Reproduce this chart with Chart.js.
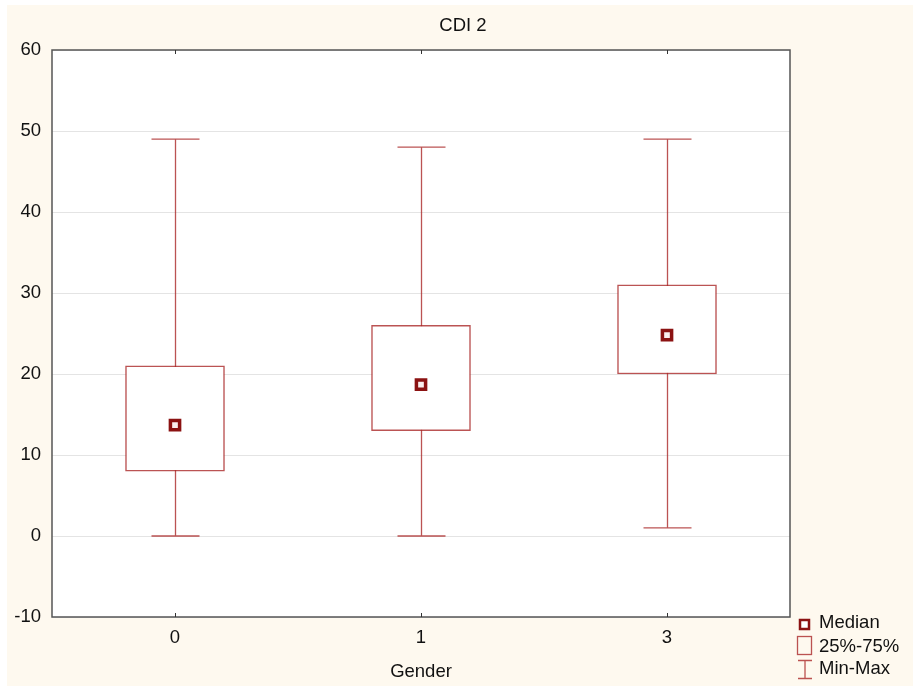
<!DOCTYPE html>
<html>
<head>
<meta charset="utf-8">
<script src="https://cdn.jsdelivr.net/npm/chart.js@4"></script>
<style>
  html, body { margin: 0; padding: 0; background: #fff; }
  #wrap { width: 913px; height: 686px; }
</style>
</head>
<body>
<div id="wrap"><canvas id="boxChart" width="913" height="686"></canvas></div>
<script>
// Gender groups and their CDI 2 box summary
const categories = ['0', '1', '3'];
const minValues = [0, 0, 1];
const q1Values = [8, 13, 20];
const medianValues = [13.7, 18.7, 24.8];
const q3Values = [21, 26, 31];
const maxValues = [49, 48, 49];

const yTicks = [-10, 0, 10, 20, 30, 40, 50, 60];

const chartTitle = 'CDI 2';
const boxColor = 'rgba(170, 40, 40, 0.8)';
const medianColor = '#8b1212';
const fontFamily = '"Liberation Sans", Arial, sans-serif';
const fontSize = 18.5;

// whiskers (min-max) under the boxes
const whiskerPlugin = {
    id: 'whiskers',
    beforeDatasetsDraw(chart) {
        const ctx = chart.ctx;
        const x = chart.scales.x, y = chart.scales.y;
        ctx.save();
        ctx.strokeStyle = boxColor;
        ctx.lineWidth = 1.3;
        categories.forEach((c, i) => {
            const cx = Math.round(x.getPixelForValue(i)) + 0.5;
            const yMin = y.getPixelForValue(minValues[i]);
            const yMax = y.getPixelForValue(maxValues[i]);
            ctx.beginPath();
            ctx.moveTo(cx, yMin);
            ctx.lineTo(cx, yMax);
            ctx.moveTo(cx - 24, yMin);
            ctx.lineTo(cx + 24, yMin);
            ctx.moveTo(cx - 24, yMax);
            ctx.lineTo(cx + 24, yMax);
            ctx.stroke();
        });
        ctx.restore();
    }
};

// beige background, plot frame, inner ticks, title and legend
const framePlugin = {
    id: 'frame',
    beforeDraw(chart) {
        const ctx = chart.ctx;
        const a = chart.chartArea;
        ctx.save();
        ctx.fillStyle = '#fef9ef';
        ctx.fillRect(7, 5, chart.width - 7, chart.height - 5);
        ctx.fillStyle = '#ffffff';
        ctx.fillRect(a.left, a.top, a.right - a.left, a.bottom - a.top);
        ctx.restore();
    },
    afterDraw(chart) {
        const ctx = chart.ctx;
        const a = chart.chartArea;
        const x = chart.scales.x;
        ctx.save();
        ctx.strokeStyle = '#555';
        ctx.lineWidth = 1.5;
        ctx.strokeRect(a.left, a.top, a.right - a.left, a.bottom - a.top);
        ctx.lineWidth = 1;
        ctx.strokeStyle = '#333';
        categories.forEach((c, i) => {
            const cx = Math.round(x.getPixelForValue(i)) + 0.5;
            ctx.beginPath();
            ctx.moveTo(cx, a.bottom);
            ctx.lineTo(cx, a.bottom - 4);
            ctx.moveTo(cx, a.top);
            ctx.lineTo(cx, a.top + 4);
            ctx.stroke();
        });

        // title, centred on the page like the original
        ctx.fillStyle = '#111';
        ctx.font = fontSize + 'px ' + fontFamily;
        ctx.textAlign = 'center';
        ctx.textBaseline = 'middle';
        ctx.fillText(chartTitle, 463, 26);

        // legend
        const lx = a.right + 8;
        const ly = a.bottom;
        ctx.fillStyle = '#fff';
        ctx.strokeStyle = medianColor;
        ctx.lineWidth = 2.5;
        ctx.fillRect(lx + 2, ly + 3, 9, 9);
        ctx.strokeRect(lx + 2, ly + 3, 9, 9);
        ctx.strokeStyle = boxColor;
        ctx.lineWidth = 1.3;
        ctx.strokeRect(lx - 0.5, ly + 19.5, 14, 18);
        ctx.beginPath();
        ctx.moveTo(lx, ly + 43.5); ctx.lineTo(lx + 14, ly + 43.5);
        ctx.moveTo(lx + 7, ly + 43.5); ctx.lineTo(lx + 7, ly + 61.5);
        ctx.moveTo(lx, ly + 61.5); ctx.lineTo(lx + 14, ly + 61.5);
        ctx.stroke();
        ctx.fillStyle = '#111';
        ctx.textAlign = 'left';
        ctx.fillText('Median', lx + 21, ly + 6);
        ctx.fillText('25%-75%', lx + 21, ly + 30);
        ctx.fillText('Min-Max', lx + 21, ly + 52);
        ctx.restore();
    }
};

new Chart(document.getElementById('boxChart'), {
    data: {
        labels: categories,
        datasets: [
            {
                type: 'bar',
                label: '25%-75%',
                data: q1Values.map((q, i) => [q, q3Values[i]]),
                backgroundColor: '#ffffff',
                borderColor: boxColor,
                borderWidth: 1.5,
                borderSkipped: false,
                barThickness: 99,
                grouped: false,
                order: 2
            },
            {
                type: 'line',
                label: 'Median',
                data: medianValues,
                showLine: false,
                pointStyle: 'rect',
                pointRadius: 6.5,
                pointBorderWidth: 3.5,
                pointBackgroundColor: '#fbeeee',
                pointBorderColor: medianColor,
                order: 1
            }
        ]
    },
    options: {
        responsive: false,
        animation: false,
        layout: { padding: { left: 7, right: 123, top: 50, bottom: 0 } },
        plugins: {
            legend: { display: false },
            tooltip: { enabled: false },
            title: { display: false }
        },
        scales: {
            x: {
                type: 'category',
                offset: true,
                grid: { display: false, drawTicks: false },
                border: { display: false },
                ticks: {
                    color: '#111',
                    padding: 10,
                    font: { family: fontFamily, size: fontSize }
                },
                title: {
                    display: true,
                    text: 'Gender',
                    color: '#111',
                    font: { family: fontFamily, size: fontSize },
                    padding: { top: 4, bottom: 3 }
                },
                afterFit(scale) { scale.height = 69; }
            },
            y: {
                min: -10,
                max: 60,
                afterBuildTicks(scale) { scale.ticks = yTicks.map(v => ({ value: v })); },
                grid: { color: '#e4e4e4', lineWidth: 1, drawTicks: false },
                border: { display: false },
                ticks: {
                    color: '#111',
                    padding: 11,
                    font: { family: fontFamily, size: fontSize }
                },
                afterFit(scale) { scale.width = 45; }
            }
        }
    },
    plugins: [whiskerPlugin, framePlugin]
});
</script>
</body>
</html>
